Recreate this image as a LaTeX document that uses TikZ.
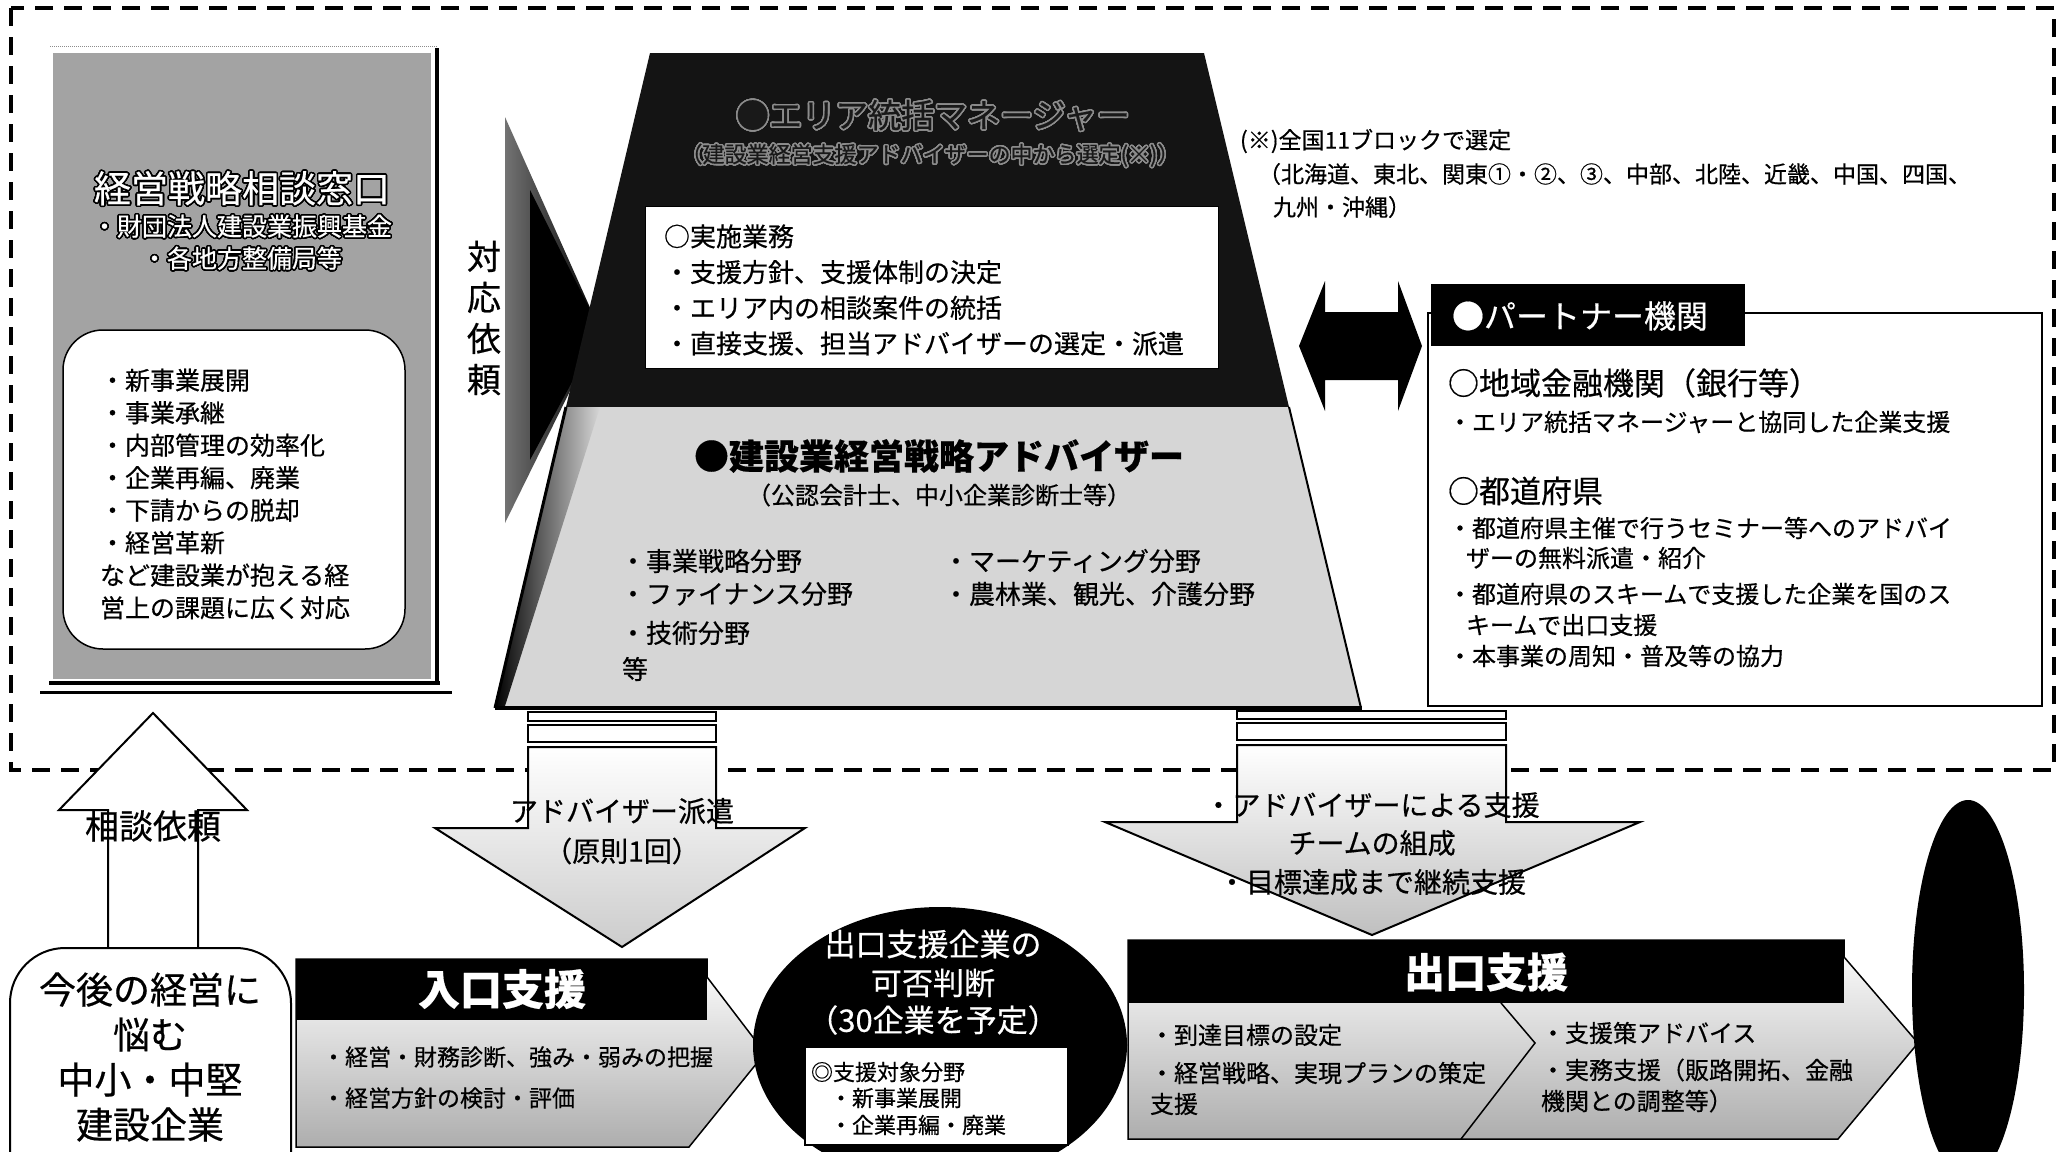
\documentclass[tikz,border=0pt]{standalone}
\usepackage{fontspec}
\setmainfont{Noto Sans CJK JP}[FakeBold=0.5]
\usepackage{contour}
\contourlength{1.6pt}
\contournumber{24}
\newcommand\fsz[2]{\fontsize{#1}{#2}\selectfont}
\begin{document}
\begin{tikzpicture}[x=1pt,y=-1pt,
  every node/.style={inner sep=0pt,outer sep=0pt},
  lt/.style={anchor=west},
  frameline/.style={line width=3.5pt,dash pattern=on 18pt off 11pt},
  blockarrow/.style={draw=black,line width=2pt},
  hdr/.style={fill=black},
  hdrtext/.style={text=white,font=\bfseries\fsz{42}{46}}]
\useasboundingbox (0,0) rectangle (2068,1151);
\clip (0,0) rectangle (2068,1151);
\fill[white] (0,0) rectangle (2068,1151);

% dashed frame
\draw[frameline] (11,8) rectangle (2054,770);

% ---------- left box ----------
\fill[black!36] (53,53) rectangle (431,679);
\draw[black!45,line width=1pt,densely dotted] (50,46) -- (437,46);
\draw[line width=4pt] (437,48) -- (437,683);
\draw[line width=4pt] (49,683) -- (440,683);
\draw[line width=3pt] (40,692) -- (452,692);
\node (lt1) at (242,189) {\fsz{37}{40}\color{white}\contour{black}{経営戦略相談窓口}};
\node (lt2) at (242,227) {\fsz{25}{28}\color{white}\contour{black}{・財団法人建設業振興基金}};
\node (lt3) at (242,259) {\fsz{25}{28}\color{white}\contour{black}{・各地方整備局等}};
\draw[line width=1.5pt,fill=white,rounded corners=40pt] (63,330) rectangle (405,649);
\node[anchor=west,align=left,font=\fsz{25}{32.5}] (ltx) at (100,494)
 {・新事業展開\\・事業承継\\・内部管理の効率化\\・企業再編、廃業\\・下請からの脱却\\・経営革新\\など建設業が抱える経\\営上の課題に広く対応};

% ---------- request arrow ----------
\shade[left color=black!55,right color=black] (505,117) -- (600,330) -- (505,523) -- cycle;
\fill[black] (530,190) -- (600,330) -- (530,460) -- cycle;
\node[align=center,font=\fsz{34}{41}] (taio) at (484,318) {対\\応\\依\\頼};

% ---------- trapezoid ----------
\fill[black!92] (650,53) -- (1204,53) -- (1289,407) -- (566,407) -- cycle;
\fill[black!16] (566,407) -- (1289,407) -- (1361,708) -- (495,708) -- cycle;
\shade[left color=black,right color=black!16] (566,407) -- (600,407) -- (505,706) -- (495,708) -- cycle;
\draw[line width=2pt] (1289,407) -- (1361,708);
\draw[line width=4pt] (495,708) -- (1362,708);
\draw[line width=3pt] (566,407) -- (495,708);
\node (am1) at (933,116) {\fsz{33}{36}\color{black!90}\contour{black!45}{●エリア統括マネージャー}};
\node (am2) at (930,156) {\fsz{22}{24}\color{black!90}\contour{black!45}{（建設業経営支援アドバイザーの中から選定(※)）}};
\draw[line width=1pt,fill=white] (645,206) rectangle (1218,368);
\node[anchor=west,align=left,font=\fsz{26}{35.7}] (jisshi) at (664,290)
 {○実施業務\\・支援方針、支援体制の決定\\・エリア内の相談案件の統括\\・直接支援、担当アドバイザーの選定・派遣};
\node[font=\bfseries\fsz{35}{38}] (adv1) at (939,456) {●建設業経営戦略アドバイザー};
\node[font=\fsz{24}{26}] (adv2) at (939,495) {（公認会計士、中小企業診断士等）};
\node[lt,font=\fsz{26}{28}] (f1) at (620,561) {・事業戦略分野};
\node[lt,font=\fsz{26}{28}] (f2) at (620,594) {・ファイナンス分野};
\node[lt,font=\fsz{26}{28}] (f3) at (620,633) {・技術分野};
\node[lt,font=\fsz{26}{28}] (f4) at (622,669) {等};
\node[lt,font=\fsz{26}{28}] (f5) at (943,561) {・マーケティング分野};
\node[lt,font=\fsz{26}{28}] (f6) at (943,594) {・農林業、観光、介護分野};

% ---------- bars under trapezoid ----------
\draw[line width=2.5pt,fill=white] (528,712) rectangle (716,721);
\draw[line width=2.5pt,fill=white] (528,725) rectangle (716,742);
\draw[line width=2.5pt,fill=white] (1237,711) rectangle (1506,719);
\draw[line width=2.5pt,fill=white] (1237,723) rectangle (1506,740);

% ---------- left down arrow ----------
\shade[top color=white,bottom color=black!20] (528,747) -- (716,747) -- (716,828) -- (805,828) -- (622,947) -- (435,828) -- (528,828) -- cycle;
\draw[blockarrow] (528,747) -- (716,747) -- (716,828) -- (805,828) -- (622,947) -- (435,828) -- (528,828) -- cycle;
\node[font=\fsz{28}{30}] (ad1) at (622,811) {アドバイザー派遣};
\node[font=\fsz{28}{30}] (ad2) at (622,851) {（原則1回）};

% ---------- right down arrow ----------
\shade[top color=white,bottom color=black!25] (1237,745) -- (1506,745) -- (1506,822) -- (1640,822) -- (1372,935) -- (1105,822) -- (1237,822) -- cycle;
\draw[blockarrow] (1237,745) -- (1506,745) -- (1506,822) -- (1640,822) -- (1372,935) -- (1105,822) -- (1237,822) -- cycle;
\node[font=\fsz{28}{30}] (ex1) at (1372,805) {・アドバイザーによる支援};
\node[font=\fsz{28}{30}] (ex2) at (1372,843) {チームの組成};
\node[font=\fsz{28}{30}] (ex3) at (1372,882) {・目標達成まで継続支援};

% ---------- up arrow ----------
\draw[blockarrow,fill=white] (153,713) -- (247,810) -- (198,810) -- (198,952) -- (108,952) -- (108,810) -- (59,810) -- cycle;
\node[font=\fsz{34}{36}] (sodan) at (153,826) {相談依頼};

% ---------- company box ----------
\draw[line width=2pt,fill=white,rounded corners=55pt] (10,948) rectangle (291,1220);
\node[align=center,font=\fsz{37}{45}] (comp) at (150,1057) {今後の経営に\\悩む\\中小・中堅\\建設企業};

% ---------- entrance support ----------
\shade[top color=white,bottom color=black!32] (296,959) -- (707,959) -- (707,977) -- (765,1053) -- (689,1147) -- (296,1147) -- cycle;
\draw[line width=1.5pt] (296,959) -- (707,959) -- (707,977) -- (765,1053) -- (689,1147) -- (296,1147) -- cycle;
\fill[hdr] (296,959) rectangle (707,1020);
\node[hdrtext] (iri) at (502,989) {入口支援};
\node[lt,font=\fsz{23}{25}] (iri1) at (322,1057) {・経営・財務診断、強み・弱みの把握};
\node[lt,font=\fsz{23}{25}] (iri2) at (322,1098) {・経営方針の検討・評価};

% ---------- judgement ellipse ----------
\fill[black] (940,1045) ellipse [x radius=187, y radius=138];
\node[text=white,font=\fsz{31}{33}] (j1) at (933,944) {出口支援企業の};
\node[text=white,font=\fsz{31}{33}] (j2) at (933,983) {可否判断};
\node[text=white,font=\fsz{31}{33}] (j3) at (933,1020) {（30企業を予定）};
\draw[line width=1.2pt,fill=white] (805,1047) rectangle (1068,1145);
\node[lt,font=\fsz{22}{24}] (j4) at (811,1072) {◎支援対象分野};
\node[lt,font=\fsz{22}{24}] (j5) at (830,1098) {・新事業展開};
\node[lt,font=\fsz{22}{24}] (j6) at (830,1125) {・企業再編・廃業};

% ---------- exit support ----------
\shade[top color=white,bottom color=black!32] (1128,940) -- (1844,940) -- (1844,957) -- (1918,1043) -- (1838,1139) -- (1128,1139) -- cycle;
\draw[line width=1.5pt] (1128,940) -- (1844,940) -- (1844,957) -- (1918,1043) -- (1838,1139) -- (1128,1139) -- cycle;
\fill[hdr] (1128,940) rectangle (1844,1003);
\draw[line width=1.5pt] (1501,1003) -- (1535,1043) -- (1461,1139);
\node[hdrtext,font=\bfseries\fsz{41}{44}] (de) at (1486,972) {出口支援};
\node[lt,font=\fsz{24}{26}] (de1) at (1150,1035) {・到達目標の設定};
\node[lt,font=\fsz{24}{26}] (de2) at (1150,1073) {・経営戦略、実現プランの策定};
\node[lt,font=\fsz{24}{26}] (de3) at (1150,1104) {支援};
\node[lt,font=\fsz{24}{26}] (de4) at (1541,1033) {・支援策アドバイス};
\node[lt,font=\fsz{24}{26}] (de5) at (1541,1070) {・実務支援（販路開拓、金融};
\node[lt,font=\fsz{24}{26}] (de6) at (1541,1101) {機関との調整等）};

% ---------- right ellipse ----------
\fill[black] (1968,990) ellipse [x radius=56, y radius=190];

% ---------- note ----------
\node[lt,font=\fsz{23}{25}] (n1) at (1240,141) {(※)全国11ブロックで選定};
\node[lt,font=\fsz{23}{25}] (n2) at (1258,174) {（北海道、東北、関東①・②、③、中部、北陸、近畿、中国、四国、};
\node[lt,font=\fsz{23}{25}] (n3) at (1273,207) {九州・沖縄）};

% ---------- partner double arrow ----------
\fill[black] (1299,346) -- (1325,281) -- (1325,312) -- (1398,312) -- (1398,281) -- (1422,346)
  -- (1398,411) -- (1398,380) -- (1325,380) -- (1325,411) -- cycle;

% ---------- partner box ----------
\draw[line width=1.5pt] (1428,313) rectangle (2042,706);
\fill[hdr] (1431,284) rectangle (1745,346);
\node[text=white,font=\fsz{32}{34}] (pt) at (1580,316) {●パートナー機関};
\node[lt,font=\fsz{31}{33}] (p1) at (1448,383) {○地域金融機関（銀行等）};
\node[lt,font=\fsz{24}{26}] (p2) at (1448,422) {・エリア統括マネージャーと協同した企業支援};
\node[lt,font=\fsz{31}{33}] (p3) at (1448,491) {○都道府県};
\node[lt,font=\fsz{24}{26}] (p4) at (1448,528) {・都道府県主催で行うセミナー等へのアドバイ};
\node[lt,font=\fsz{24}{26}] (p5) at (1466,558) {ザーの無料派遣・紹介};
\node[lt,font=\fsz{24}{26}] (p6) at (1448,594) {・都道府県のスキームで支援した企業を国のス};
\node[lt,font=\fsz{24}{26}] (p7) at (1466,625) {キームで出口支援};
\node[lt,font=\fsz{24}{26}] (p8) at (1448,656) {・本事業の周知・普及等の協力};
\end{tikzpicture}
\end{document}
